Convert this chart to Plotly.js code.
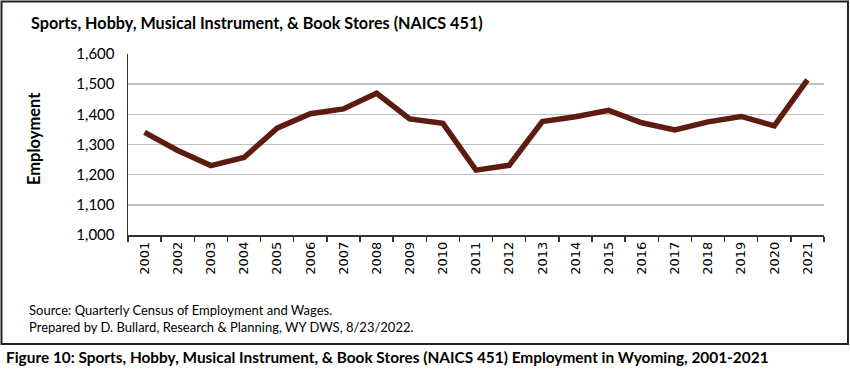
<!DOCTYPE html>
<html>
<head>
<meta charset="utf-8">
<script src="https://cdn.plot.ly/plotly-3.0.1.min.js"></script>
<style>html,body{margin:0;padding:0;background:#fff;}#chart{width:850px;height:375px;}</style>
</head>
<body>
<div id="chart"></div>
<script>
const years = ["2001","2002","2003","2004","2005","2006","2007","2008","2009","2010","2011","2012","2013","2014","2015","2016","2017","2018","2019","2020","2021"];
const employment = [1340,1280,1230,1257,1354,1402,1418,1470,1385,1370,1215,1231,1376,1392,1413,1372,1348,1375,1393,1362,1514];
const yTicks = [1000,1100,1200,1300,1400,1500,1600];
const chartTitle = "Sports, Hobby, Musical Instrument, & Book Stores (NAICS 451)";
const yTitle = "Employment";
const sourceLine1 = "Source: Quarterly Census of Employment and Wages.";
const sourceLine2 = "Prepared by D. Bullard, Research & Planning, WY DWS, 8/23/2022.";
const caption = "Figure 10: Sports, Hobby, Musical Instrument, & Book Stores (NAICS 451) Employment in Wyoming, 2001-2021";

const L = 128, R = 824, T = 54, B = 235;
const W = R - L, H = B - T;
const px = x => (x - L) / W;
const py = y => (B - y) / H;

const trace = {
  x: years, y: employment, type: 'scatter', mode: 'lines',
  line: {color: '#5e1b10', width: 5.5}, hoverinfo: 'skip'
};

const layout = {
  width: 850, height: 375,
  margin: {l: L, r: 850 - R, t: T, b: 375 - B},
  paper_bgcolor: '#fff', plot_bgcolor: '#fff',
  showlegend: false,
  font: {family: 'Lato, sans-serif', color: '#000'},
  xaxis: {
    type: 'category', range: [-0.5, 20.5], tickangle: -90,
    tickson: 'boundaries', ticks: 'outside', ticklen: 5, tickcolor: '#333', tickwidth: 1.3,
    showline: true, linecolor: '#333', linewidth: 1.5, showgrid: false,
    tickfont: {family: 'DejaVu Sans, sans-serif', size: 13, color: '#000'},
    fixedrange: true
  },
  yaxis: {
    range: [1000, 1600], tickvals: yTicks, ticktext: yTicks.map(v => v.toLocaleString('en-US')),
    showline: true, linecolor: '#333', linewidth: 1.5,
    showgrid: true, gridcolor: '#c0c0c0', gridwidth: 1.5, zeroline: false,
    ticks: '', ticklabelstandoff: 9,
    tickfont: {family: 'Lato, sans-serif', size: 15, color: '#000'},
    fixedrange: true
  },
  shapes: [{
    type: 'rect', xref: 'paper', yref: 'paper',
    x0: px(1.5), x1: px(848), y0: py(344), y1: py(1.5),
    line: {color: '#222', width: 2}, fillcolor: 'rgba(0,0,0,0)'
  }],
  annotations: [
    {text: '<b>' + chartTitle + '</b>', xref: 'paper', yref: 'paper', x: px(29), y: py(22),
     xanchor: 'left', yanchor: 'middle', showarrow: false, font: {size: 16.2, family: 'Lato, sans-serif'}},
    {text: '<b>' + yTitle + '</b>', xref: 'paper', yref: 'paper', x: px(34), y: py(139),
     xanchor: 'center', yanchor: 'middle', textangle: -90, showarrow: false, font: {size: 16.5, family: 'Lato, sans-serif'}},
    {text: sourceLine1, xref: 'paper', yref: 'paper', x: px(27), y: py(310),
     xanchor: 'left', yanchor: 'middle', showarrow: false, font: {size: 13, family: 'Lato, sans-serif'}},
    {text: sourceLine2, xref: 'paper', yref: 'paper', x: px(27), y: py(327),
     xanchor: 'left', yanchor: 'middle', showarrow: false, font: {size: 13, family: 'Lato, sans-serif'}},
    {text: '<b>' + caption + '</b>', xref: 'paper', yref: 'paper', x: px(4), y: py(357),
     xanchor: 'left', yanchor: 'middle', showarrow: false, font: {size: 15.4, family: 'Lato, sans-serif'}}
  ]
};

Plotly.newPlot('chart', [trace], layout, {displayModeBar: false, staticPlot: true});
</script>
</body>
</html>
